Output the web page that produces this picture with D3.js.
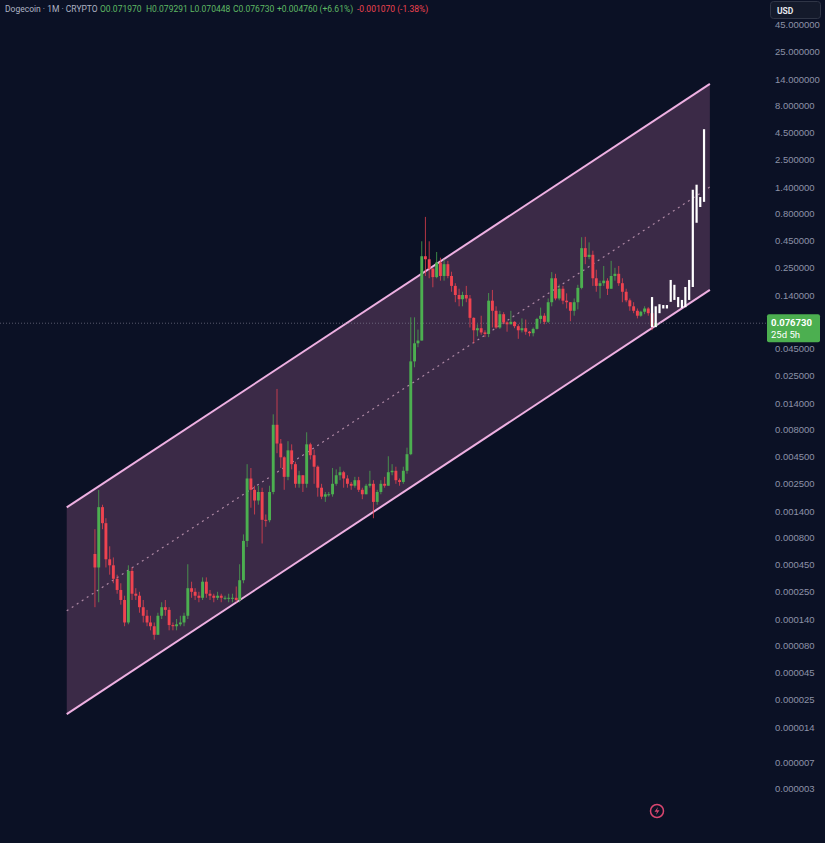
<!DOCTYPE html>
<html>
<head>
<meta charset="utf-8">
<title>Dogecoin 1M</title>
<script src="https://cdnjs.cloudflare.com/ajax/libs/d3/7.8.5/d3.min.js"></script>
<style>
    body { margin: 0; background: #0b1125; }
    svg { display: block; font-family: Roboto, "Noto Sans", sans-serif; }
</style>
</head>
<body>
<div id="chart"></div>
<script>
// monthly candles, first one is Dec 2013, open of each = previous close
const firstMonth = [2013, 11];
const firstOpen = 0.00056;
const closes = [
    0.00042,
    0.00152, 0.00108, 0.0005, 0.00044, 0.00033, 0.00026, 0.00021, 0.00013, 0.00039, 0.00024, 0.00023, 0.00018,
    0.00015, 0.00013, 0.00012, 0.0001, 0.00015, 0.00018, 0.00017, 0.000123, 0.00012, 0.000125, 0.00013, 0.00015,
    0.00027, 0.00025, 0.00023, 0.00022, 0.00031, 0.00024, 0.00023, 0.00022, 0.00023, 0.00022, 0.00022, 0.00022,
    0.00022, 0.00021, 0.00032, 0.00074, 0.0028, 0.0022, 0.00175, 0.0021, 0.00116, 0.00115, 0.0021, 0.0088,
    0.0059, 0.0044, 0.0029, 0.0051, 0.0038, 0.0025, 0.003, 0.0025, 0.0058, 0.0046, 0.0036, 0.0023,
    0.0019, 0.002, 0.002, 0.0025, 0.003, 0.0032, 0.0028, 0.0025, 0.0024, 0.0027, 0.0022, 0.002,
    0.0024, 0.0025, 0.0017, 0.0021, 0.0025, 0.0024, 0.0032, 0.0033, 0.0027, 0.0026, 0.0033, 0.0047,
    0.034, 0.05, 0.053, 0.32, 0.3, 0.245, 0.205, 0.28, 0.21, 0.27, 0.21, 0.17,
    0.14, 0.128, 0.14, 0.13, 0.086, 0.066, 0.069, 0.063, 0.061, 0.124, 0.1, 0.07,
    0.093, 0.078, 0.075, 0.079, 0.072, 0.066, 0.069, 0.064, 0.062, 0.068, 0.084, 0.09,
    0.079, 0.12, 0.2, 0.13, 0.16, 0.124, 0.12, 0.1, 0.12, 0.163, 0.38, 0.315,
    0.33, 0.2, 0.17, 0.18, 0.19, 0.16, 0.21, 0.22, 0.18, 0.15, 0.125, 0.11,
    0.1, 0.09, 0.098, 0.105, 0.095, 0.07197, 0.07673
];
const highs = [
    0.00095,
    0.00219, 0.0016, 0.0012, 0.00066, 0.00052, 0.00036, 0.0003, 0.00023, 0.00044, 0.00042, 0.00027, 0.00025,
    0.00021, 0.00017, 0.00015, 0.00013, 0.00016, 0.0002, 0.00021, 0.00018, 0.00013, 0.00014, 0.00015, 0.00016,
    0.00045, 0.00031, 0.00027, 0.00025, 0.00034, 0.00034, 0.00026, 0.00024, 0.00025, 0.00024, 0.00023, 0.00024,
    0.00024, 0.00028, 0.00045, 0.00085, 0.0038, 0.0035, 0.0024, 0.0024, 0.0023, 0.0013, 0.0024, 0.011,
    0.0189, 0.0065, 0.0045, 0.0062, 0.0058, 0.004, 0.0033, 0.003, 0.0075, 0.006, 0.0052, 0.0037,
    0.0025, 0.0021, 0.0021, 0.0035, 0.0034, 0.0036, 0.0033, 0.003, 0.0026, 0.0029, 0.0029, 0.0023,
    0.0025, 0.0033, 0.0027, 0.0022, 0.0027, 0.0029, 0.0045, 0.0038, 0.0036, 0.0028, 0.0036, 0.0054,
    0.087, 0.087, 0.067, 0.44, 0.74, 0.44, 0.25, 0.35, 0.31, 0.3, 0.29, 0.23,
    0.18, 0.16, 0.15, 0.17, 0.14, 0.087, 0.075, 0.09, 0.066, 0.146, 0.156, 0.11,
    0.1, 0.097, 0.08, 0.1, 0.08, 0.075, 0.085, 0.083, 0.065, 0.07, 0.086, 0.107,
    0.095, 0.13, 0.228, 0.22, 0.175, 0.17, 0.145, 0.12, 0.13, 0.174, 0.48, 0.484,
    0.43, 0.36, 0.24, 0.19, 0.26, 0.2, 0.29, 0.25, 0.26, 0.2, 0.16, 0.13,
    0.12, 0.105, 0.1, 0.11, 0.108, 0.097, 0.079291
];
const lows = [
    0.00018,
    0.0002, 0.00095, 0.00042, 0.00036, 0.0003, 0.00024, 0.00019, 0.00012, 0.000125, 0.00021, 0.00021, 0.00016,
    0.00013, 0.00012, 0.00011, 0.00009, 0.0001, 0.00014, 0.00015, 0.00011, 0.00011, 0.00011, 0.00012, 0.00012,
    0.00014, 0.00022, 0.00021, 0.0002, 0.00021, 0.00022, 0.00021, 0.0002, 0.00021, 0.0002, 0.00021, 0.0002,
    0.0002, 0.0002, 0.0002, 0.0003, 0.00065, 0.0015, 0.0013, 0.0016, 0.0007, 0.001, 0.0011, 0.002,
    0.0048, 0.0035, 0.0022, 0.0027, 0.0034, 0.0023, 0.0023, 0.0021, 0.0023, 0.0042, 0.0025, 0.0019,
    0.0018, 0.0017, 0.0019, 0.0019, 0.0024, 0.0027, 0.0023, 0.0023, 0.0022, 0.0023, 0.0021, 0.0018,
    0.002, 0.0023, 0.0012, 0.0016, 0.002, 0.0023, 0.0024, 0.003, 0.0025, 0.0024, 0.0025, 0.0031,
    0.0046, 0.03, 0.046, 0.053, 0.21, 0.2, 0.165, 0.2, 0.19, 0.19, 0.2, 0.15,
    0.12, 0.11, 0.11, 0.12, 0.07, 0.05, 0.058, 0.06, 0.057, 0.057, 0.07, 0.068,
    0.068, 0.075, 0.064, 0.075, 0.069, 0.055, 0.063, 0.06, 0.058, 0.058, 0.067, 0.077,
    0.075, 0.077, 0.11, 0.125, 0.125, 0.115, 0.105, 0.08, 0.09, 0.103, 0.158, 0.27,
    0.3, 0.17, 0.15, 0.13, 0.17, 0.14, 0.16, 0.19, 0.17, 0.12, 0.12, 0.1,
    0.095, 0.085, 0.088, 0.093, 0.09, 0.066, 0.070448
];

// white projected bars, first one is Jun 2026
const projFirstMonth = [2026, 5];
const projHighs = [0.134, 0.11, 0.115, 0.113, 0.113, 0.193, 0.174, 0.134, 0.126, 0.166, 0.193, 1.32, 1.47, 1.13, 4.8];
const projLows  = [0.0706, 0.0706, 0.095, 0.105, 0.105, 0.121, 0.126, 0.108, 0.106, 0.108, 0.126, 0.166, 0.653, 0.914, 1.02];

// parallel channel
const channelDates = ["2013-04-28", "2027-10-02"];
const channelUpper = [0.00151, 12.6];
const channelLower = [0.0000184, 0.156];

// 0.08 sits under the last price label, so it is left out
const yTickValues = [45, 25, 14, 8, 4.5, 2.5, 1.4, 0.8, 0.45, 0.25, 0.14, 0.045, 0.025, 0.014, 0.008, 0.0045,
    0.0025, 0.0014, 0.0008, 0.00045, 0.00025, 0.00014, 0.00008, 0.000045, 0.000025, 0.000014, 0.0000066, 0.0000038];
const yTickLabels = ["45.000000", "25.000000", "14.000000", "8.000000", "4.500000", "2.500000", "1.400000", "0.800000",
    "0.450000", "0.250000", "0.140000", "0.045000", "0.025000", "0.014000", "0.008000", "0.004500",
    "0.002500", "0.001400", "0.000800", "0.000450", "0.000250", "0.000140", "0.000080", "0.000045", "0.000025",
    "0.000014", "0.000007", "0.000003"];
const xTickYears = [2014, 2015, 2016, 2017, 2018, 2019, 2020, 2021, 2022, 2023, 2024, 2025, 2026, 2027, 2028, 2029];

const lastPrice = 0.07673;

const W = 825, H = 843;
const plotRight = 766;
const bg = "#0b1125";
const up = "#4caf50", down = "#ef4350";

const svg = d3.select("#chart").append("svg")
    .attr("width", W)
    .attr("height", H);

svg.append("rect").attr("width", W).attr("height", H).attr("fill", bg);

const x = d3.scaleTime()
    .domain([new Date(2014, 0, 1), new Date(2028, 0, 1)])
    .range([97, 721]);

const y = d3.scaleLog()
    .domain([0.14, 0.0014])
    .range([295, 511]);

const defs = svg.append("defs");
defs.append("clipPath").attr("id", "plot")
    .append("rect").attr("x", 0).attr("y", 0).attr("width", plotRight).attr("height", 818);
defs.append("clipPath").attr("id", "xclip")
    .append("rect").attr("x", 0).attr("y", 815).attr("width", plotRight).attr("height", 28);

const plot = svg.append("g").attr("clip-path", "url(#plot)");

// channel
const cx0 = x(new Date(channelDates[0])), cx1 = x(new Date(channelDates[1]));
const pts = [
    [cx0, y(channelUpper[0])], [cx1, y(channelUpper[1])],
    [cx1, y(channelLower[1])], [cx0, y(channelLower[0])]
];
plot.append("polygon")
    .attr("points", pts.map(p => p.join(",")).join(" "))
    .attr("fill", "#3b2a47");

const mid0 = Math.sqrt(channelUpper[0] * channelLower[0]);
const mid1 = Math.sqrt(channelUpper[1] * channelLower[1]);
plot.append("line")
    .attr("x1", cx0).attr("y1", y(mid0))
    .attr("x2", cx1).attr("y2", y(mid1))
    .attr("stroke", "#ad88a4")
    .attr("stroke-width", 1.2)
    .attr("stroke-dasharray", "2,4");

[[channelUpper[0], channelUpper[1]], [channelLower[0], channelLower[1]]].forEach(v => {
    plot.append("line")
        .attr("x1", cx0).attr("y1", y(v[0]))
        .attr("x2", cx1).attr("y2", y(v[1]))
        .attr("stroke", "#eeb0e2")
        .attr("stroke-width", 2);
});

// last price line
plot.append("line")
    .attr("x1", 0).attr("x2", plotRight)
    .attr("y1", y(lastPrice)).attr("y2", y(lastPrice))
    .attr("stroke", "#8a8a9c")
    .attr("stroke-opacity", 0.6)
    .attr("stroke-dasharray", "1,2");

// candles
const candles = closes.map((c, i) => ({
    date: new Date(firstMonth[0], firstMonth[1] + i, 15),
    open: i === 0 ? firstOpen : closes[i - 1],
    high: highs[i],
    low: lows[i],
    close: c
}));

const bodyW = 2.9;
const cg = plot.append("g");
cg.selectAll("line.wick")
    .data(candles)
    .join("line")
    .attr("class", "wick")
    .attr("x1", d => x(d.date)).attr("x2", d => x(d.date))
    .attr("y1", d => y(d.high)).attr("y2", d => y(d.low))
    .attr("stroke", d => d.close >= d.open ? up : down)
    .attr("stroke-opacity", 0.75)
    .attr("stroke-width", 1);

cg.selectAll("rect.body")
    .data(candles)
    .join("rect")
    .attr("class", "body")
    .attr("x", d => x(d.date) - bodyW / 2)
    .attr("width", bodyW)
    .attr("y", d => y(Math.max(d.open, d.close)))
    .attr("height", d => Math.max(1, Math.abs(y(d.open) - y(d.close))))
    .attr("fill", d => d.close >= d.open ? up : down);

// projection bars
const proj = projHighs.map((h, i) => ({
    date: new Date(projFirstMonth[0], projFirstMonth[1] + i, 15),
    high: h,
    low: projLows[i]
}));
plot.append("g").selectAll("rect")
    .data(proj)
    .join("rect")
    .attr("x", d => x(d.date) - 1.1)
    .attr("width", 2.2)
    .attr("y", d => y(d.high))
    .attr("height", d => y(d.low) - y(d.high))
    .attr("fill", "#ffffff");

// y axis
const yAxis = svg.append("g")
    .attr("transform", `translate(${plotRight},0)`)
    .call(d3.axisRight(y)
        .tickValues(yTickValues)
        .tickFormat((d, i) => yTickLabels[i])
        .tickSize(0)
        .tickPadding(9));
yAxis.select(".domain").remove();
yAxis.selectAll("text")
    .attr("fill", "#8d92a8")
    .style("font-size", "9.5px");

// x axis
const xAxis = svg.append("g")
    .attr("transform", "translate(0,818)")
    .attr("clip-path", "url(#xclip)")
    .call(d3.axisBottom(x)
        .tickValues(xTickYears.map(yr => new Date(yr, 0, 1)))
        .tickFormat(d3.timeFormat("%Y"))
        .tickSize(0)
        .tickPadding(7));
xAxis.select(".domain").remove();
xAxis.selectAll("text")
    .attr("fill", "#8d92a8")
    .style("font-size", "9.5px");

// price label
const py = y(lastPrice);
svg.append("rect")
    .attr("x", 767).attr("y", py - 9)
    .attr("width", 53).attr("height", 28)
    .attr("rx", 2)
    .attr("fill", up);
svg.append("text")
    .attr("x", 771).attr("y", py + 3)
    .attr("fill", "#fff")
    .style("font-size", "9.5px")
    .style("font-weight", "bold")
    .text(d3.format(".6f")(lastPrice));
svg.append("text")
    .attr("x", 771).attr("y", py + 15)
    .attr("fill", "#fff")
    .style("font-size", "9.5px")
    .text("25d 5h");

// USD box
svg.append("rect")
    .attr("x", 770.5).attr("y", 1.5)
    .attr("width", 50).attr("height", 17)
    .attr("rx", 3)
    .attr("fill", "#141a2b")
    .attr("stroke", "#2f3546");
svg.append("text")
    .attr("x", 777).attr("y", 13.5)
    .attr("fill", "#e6e8ee")
    .style("font-size", "8.5px")
    .style("font-weight", "bold")
    .text("USD");

// header
const header = svg.append("text")
    .attr("y", 12)
    .style("font-size", "8.5px");
const parts = [
    ["Dogecoin · 1M · CRYPTO", 5, "#aeb3c4"],
    ["O0.071970", 100, "#5fb964"],
    ["H0.079291", 146, "#5fb964"],
    ["L0.070448", 190, "#5fb964"],
    ["C0.076730", 233, "#5fb964"],
    ["+0.004760 (+6.61%)", 277, "#5fb964"],
    ["-0.001070 (-1.38%)", 357, "#ef4350"]
];
parts.forEach(p => {
    header.append("tspan").attr("x", p[1]).attr("fill", p[2]).text(p[0]);
});

// small lightning badge
const badge = svg.append("g").attr("transform", "translate(657,811)");
badge.append("circle").attr("r", 6.5).attr("fill", "none")
    .attr("stroke", "#d9466f").attr("stroke-width", 1.5);
badge.append("path")
    .attr("d", "M1,-4 L-2.5,0.8 L0,0.8 L-1,4 L2.5,-0.8 L0,-0.8 Z")
    .attr("fill", "#d9466f");
</script>
</body>
</html>
